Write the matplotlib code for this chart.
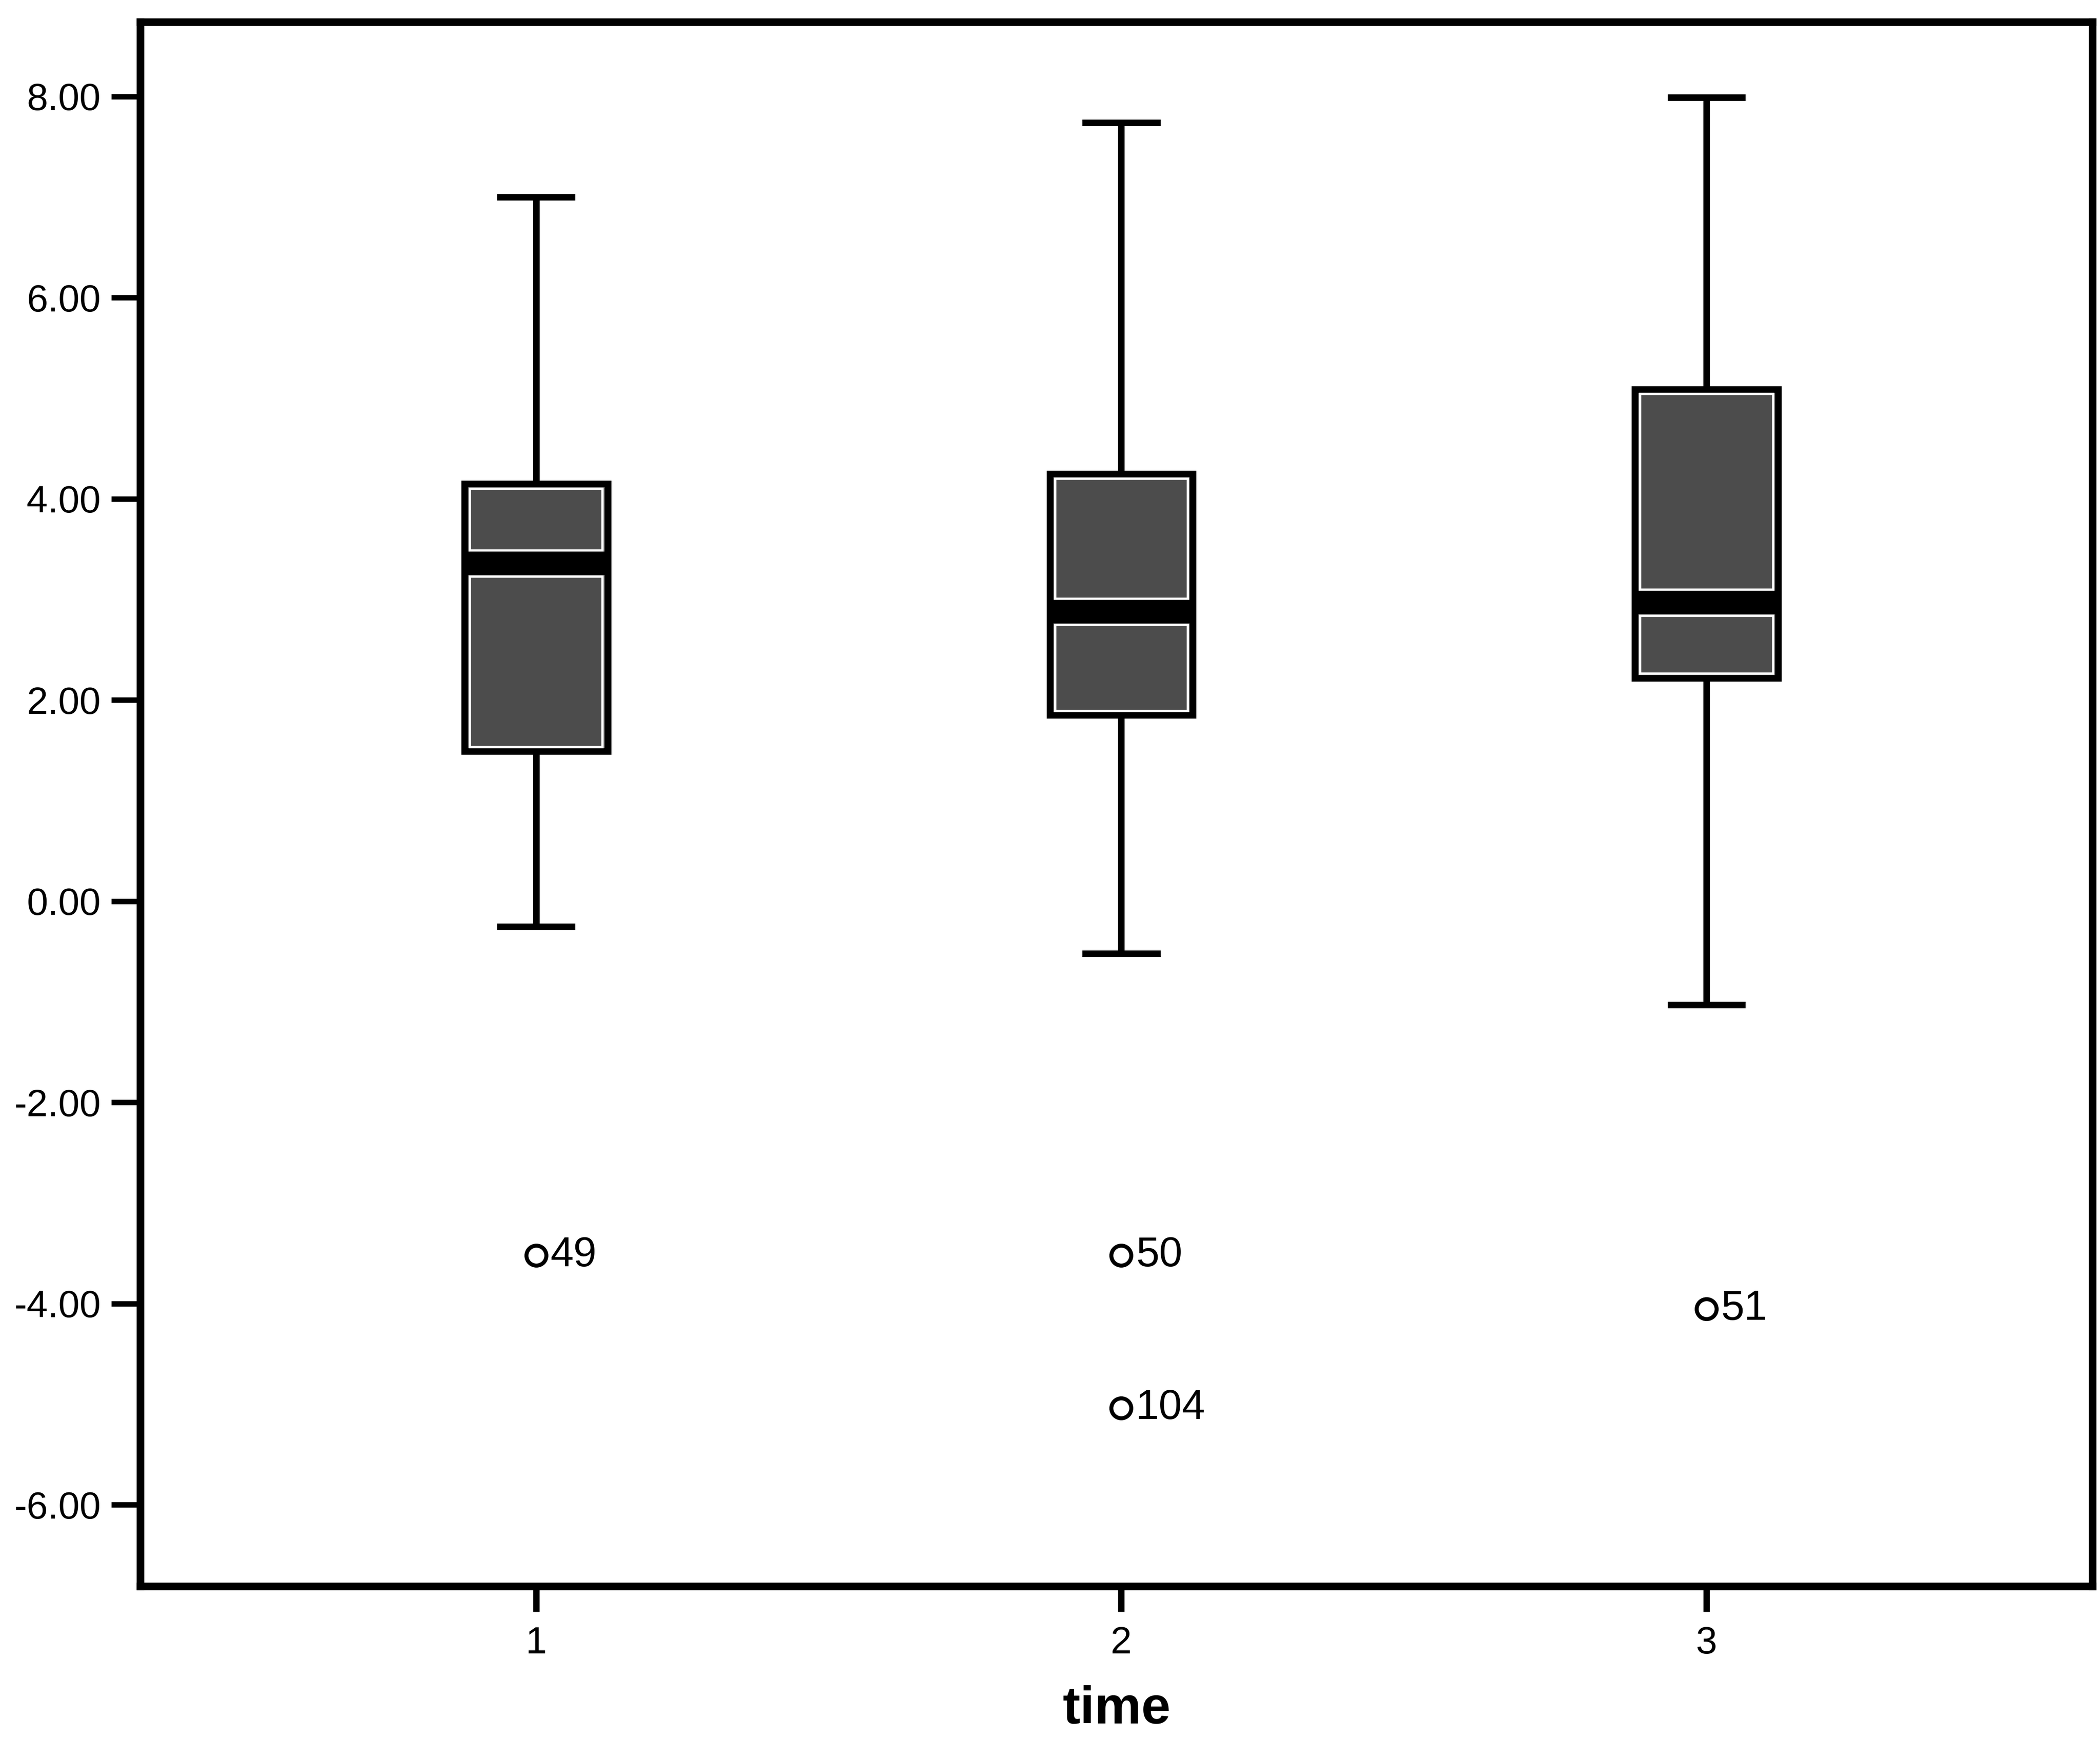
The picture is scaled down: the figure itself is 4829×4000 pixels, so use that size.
import numpy as np
import matplotlib
matplotlib.use("Agg")
import matplotlib.pyplot as plt
from matplotlib.patches import Rectangle
from matplotlib.ticker import FormatStrFormatter

plt.rcParams['font.family'] = ['Liberation Sans', 'DejaVu Sans']
plt.rcParams['axes.unicode_minus'] = False

# valores
times = [1, 2, 3]
whislo = [-0.25, -0.52, -1.03]
q1 = [1.49, 1.85, 2.22]
med = [3.36, 2.88, 2.97]
q3 = [4.15, 4.25, 5.09]
whishi = [7.00, 7.74, 7.99]

# atipicos: (grupo, valor, caso)
out_time = [1, 2, 2, 3]
out_val = [-3.52, -3.52, -5.04, -4.05]
out_case = ['49', '50', '104', '51']

box_w = 0.245
fill_col = '#4c4c4c'

fig = plt.figure(figsize=(4829 / 300, 4000 / 300), dpi=300)
ax = fig.add_axes([0.0669, 0.0883, 0.9296, 0.899])

stats = []
for i, t in enumerate(times):
    stats.append(dict(med=med[i], q1=q1[i], q3=q3[i],
                      whislo=whislo[i], whishi=whishi[i], fliers=[]))

bp = ax.bxp(stats, positions=times, widths=box_w, patch_artist=True,
            showfliers=False,
            boxprops=dict(facecolor=fill_col, edgecolor='black', linewidth=3.6),
            whiskerprops=dict(color='black', linewidth=3.6),
            capprops=dict(color='black', linewidth=3.6),
            medianprops=dict(color='black', linewidth=13, solid_capstyle='butt'))

# linea blanca interior de cada caja (arriba y abajo de la mediana)
dx = 0.009
dy_edge = 0.045
dy_med = 0.13
for i, t in enumerate(times):
    x0 = t - box_w / 2 + dx
    ww = box_w - 2 * dx
    lo = Rectangle((x0, q1[i] + dy_edge), ww, med[i] - dy_med - q1[i] - dy_edge,
                   fill=False, edgecolor='white', linewidth=1.3, zorder=3)
    hi = Rectangle((x0, med[i] + dy_med), ww, q3[i] - dy_edge - med[i] - dy_med,
                   fill=False, edgecolor='white', linewidth=1.3, zorder=3)
    ax.add_patch(lo)
    ax.add_patch(hi)

for m in bp['medians']:
    m.set_zorder(4)

# atipicos con su numero de caso
ax.plot(out_time, out_val, 'o', markersize=11, markerfacecolor='white',
        markeredgecolor='black', markeredgewidth=2.2, linestyle='none', zorder=5)
for t, v, c in zip(out_time, out_val, out_case):
    ax.annotate(c, (t, v), xytext=(8, 0), textcoords='offset points',
                ha='left', va='center', fontsize=23)

ax.set_xlim(0.324, 3.66)
ax.set_ylim(-6.81, 8.74)
ax.set_xticks(times)
ax.set_yticks(np.arange(-6, 9, 2))
ax.yaxis.set_major_formatter(FormatStrFormatter('%.2f'))

for s in ax.spines.values():
    s.set_linewidth(4.2)
ax.tick_params(axis='y', length=16, width=3, pad=6, labelsize=21)
ax.tick_params(axis='x', length=14, width=3.5, pad=8, labelsize=21)

ax.set_xlabel('time', fontsize=29, fontweight='bold', labelpad=13)

fig.savefig('out.png', dpi=300)
